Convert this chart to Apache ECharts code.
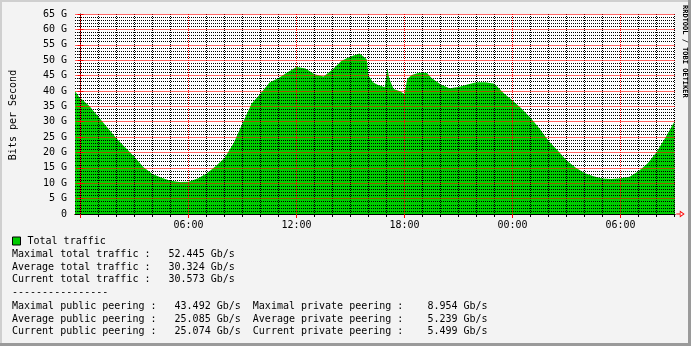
<!DOCTYPE html>
<html><head><meta charset="utf-8">
<script src="https://cdn.jsdelivr.net/npm/echarts@6/dist/echarts.min.js"></script>
<style>html,body{margin:0;padding:0;background:#f3f3f3}#c{width:691px;height:346px}</style>
</head><body><div id="c"></div>
<script>
// time in hours from the first midnight shown
const hours = [-0.31,-0.1,0,0.5,1,1.5,2,2.5,3,3.5,4,4.5,5,5.5,6,6.5,7,7.5,8,8.5,9,9.5,10,10.5,11,11.5,12,12.5,13,13.5,14,14.5,15,15.5,15.75,15.9,16,16.25,16.5,16.75,16.9,17.0,17.05,17.12,17.2,17.4,17.75,18,18.15,18.4,18.75,19,19.25,19.5,20,20.5,21,21.5,22,22.5,23,23.5,24,24.5,25,25.5,26,26.5,27,27.5,28,28.5,29,29.5,30,30.5,31,31.5,32,32.5,33,33.03];
const traffic = [40.0,38.2,37.8,35.0,31.5,28.0,24.5,21.5,18.5,15.2,13.0,11.8,10.8,10.4,10.5,11.5,13.2,15.5,18.2,23.0,29.5,35.8,39.2,42.7,44.2,46.1,47.8,47.3,45.4,44.7,47.0,49.8,51.2,52.2,51.0,50.3,45.0,42.8,42.0,41.5,41.2,45.5,47.4,45.0,43.3,40.6,39.9,39.0,43.9,45.2,45.8,46.0,45.8,44.2,42.2,40.9,41.3,42.1,42.8,42.8,42.3,39.3,36.9,34.3,31.3,27.8,23.8,20.7,17.5,15.1,13.3,12.3,11.5,11.4,11.6,12.1,13.9,16.4,20.1,24.9,30.1,30.6];
const xMin = -0.31, xMax = 33.03;
const majorHours = [0,6,12,18,24,30];
const labelHours = [6,12,18,24,30];
const labelTexts = ['06:00','12:00','18:00','00:00','06:00'];
const minorHours = [1,2,3,4,5,7,8,9,10,11,13,14,15,16,17,19,20,21,22,23,25,26,27,28,29,31,32,33];
const yLabels = ['0','5 G','10 G','15 G','20 G','25 G','30 G','35 G','40 G','45 G','50 G','55 G','60 G','65 G'];
const yMax = 65, yMajorStep = 5, yMinorSplit = 5;
const seriesName = 'Total traffic';
const yTitle = 'Bits per Second';
const watermark = 'RRDTOOL / TOBI OETIKER';
const legendLines = [
 'Maximal total traffic :   52.445 Gb/s',
 'Average total traffic :   30.324 Gb/s',
 'Current total traffic :   30.573 Gb/s',
 '----------------',
 'Maximal public peering :   43.492 Gb/s  Maximal private peering :    8.954 Gb/s',
 'Average public peering :   25.085 Gb/s  Average private peering :    5.239 Gb/s',
 'Current public peering :   25.074 Gb/s  Current private peering :    5.499 Gb/s'
];

const MONO = '"DejaVu Sans Mono", monospace';
const chart = echarts.init(document.getElementById('c'), null, {renderer:'canvas'});
const data = hours.map((h,i)=>[h, traffic[i]]);
const arrowPath = 'path://M5 0 L10 7 L0 7 Z M5 2.2 L2.6 6 L7.4 6 Z M4.4 7 L5.6 7 L5.6 12 L4.4 12 Z';
const DOT = [1,1];

const graphics = [
  {type:'rect', shape:{x:0,y:0,width:691,height:2}, style:{fill:'#cfcfcf'}, silent:true},
  {type:'rect', shape:{x:0,y:0,width:2,height:346}, style:{fill:'#cfcfcf'}, silent:true},
  {type:'rect', shape:{x:0,y:343,width:691,height:3}, style:{fill:'#9a9a9a'}, silent:true},
  {type:'rect', shape:{x:688,y:0,width:3,height:346}, style:{fill:'#9a9a9a'}, silent:true},
  {type:'text', x:684.5, y:5, rotation:-Math.PI/2, silent:true,
   style:{text:watermark, font:'bold 7px '+MONO, fill:'#000', align:'left', verticalAlign:'middle'}},
  {type:'text', x:13, y:115, rotation:Math.PI/2, silent:true,
   style:{text:yTitle, font:'10px '+MONO, fill:'#000', align:'center', verticalAlign:'middle'}}
];
legendLines.forEach((t,i)=>{
  graphics.push({type:'text', x:12, y:254.3 + i*12.7 + (i>=4?1.2:0), silent:true,
    style:{text:t, font:'10px '+MONO, fill:'#000', align:'left', verticalAlign:'middle'}});
});

const option = {
  animation:false,
  backgroundColor:'#f3f3f3',
  grid:{left:75, top:14, width:600, height:200, show:true, backgroundColor:'#ffffff', borderWidth:0, containLabel:false},
  legend:{show:true, data:[seriesName], left:12, top:236, padding:0, itemWidth:8, itemHeight:8, icon:'rect',
    itemStyle:{borderColor:'#000', borderWidth:1},
    textStyle:{fontFamily:MONO, fontSize:10, color:'#000', padding:[0,0,0,2]}},
  xAxis:[
    {type:'value', min:xMin, max:xMax, z:4, position:'bottom',
     axisLine:{show:true, symbol:['none', arrowPath], symbolSize:[7,11], symbolOffset:[0,5.5], lineStyle:{color:'#ff0000', width:1}},
     axisTick:{show:true, customValues:minorHours, length:3, lineStyle:{color:'#000'}},
     axisLabel:{show:false},
     splitLine:{show:true, lineStyle:{color:'#000', width:1, type:DOT}}},
    {type:'value', min:xMin, max:xMax, z:6, position:'bottom',
     axisLine:{show:true, lineStyle:{color:'#000', width:1}},
     axisTick:{show:true, customValues:majorHours, length:4, lineStyle:{color:'#ff0000'}},
     axisLabel:{show:true, customValues:labelHours, margin:6, color:'#000', fontFamily:MONO, fontSize:10,
       formatter:(v)=>labelTexts[labelHours.indexOf(v)] || ''},
     splitLine:{show:true, lineStyle:{color:'#ff0000', width:1, type:DOT}}}
  ],
  yAxis:[
    {type:'value', min:0, max:yMax, interval:yMajorStep, z:5, position:'left',
     axisLine:{show:true, lineStyle:{color:'#000', width:1}},
     axisTick:{show:true, length:3, lineStyle:{color:'#ff0000'}},
     minorTick:{show:true, splitNumber:yMinorSplit, length:2, lineStyle:{color:'#000'}},
     axisLabel:{show:true, margin:8, color:'#000', fontFamily:MONO, fontSize:10,
       formatter:(v)=>yLabels[Math.round(v/yMajorStep)]},
     splitLine:{show:true, lineStyle:{color:'#ff0000', width:1, type:'solid', opacity:0.6}},
     minorSplitLine:{show:true, lineStyle:{color:'#000', width:1, type:DOT}}},
    {type:'value', min:0, max:yMax, interval:yMajorStep, z:5, position:'right',
     axisLine:{show:true, lineStyle:{color:'#000', width:1, type:DOT}},
     axisTick:{show:true, length:3, lineStyle:{color:'#ff0000'}},
     axisLabel:{show:false}, splitLine:{show:false}}
  ],
  series:[{
    name:seriesName, type:'line', xAxisIndex:1, yAxisIndex:0, data:data, z:1,
    showSymbol:false, symbol:'none', smooth:false, clip:true,
    lineStyle:{width:0, color:'#00cc00'}, itemStyle:{color:'#00cc00'},
    areaStyle:{color:'#00cc00', opacity:1}
  }],
  graphic:graphics
};
chart.setOption(option);
</script></body></html>
